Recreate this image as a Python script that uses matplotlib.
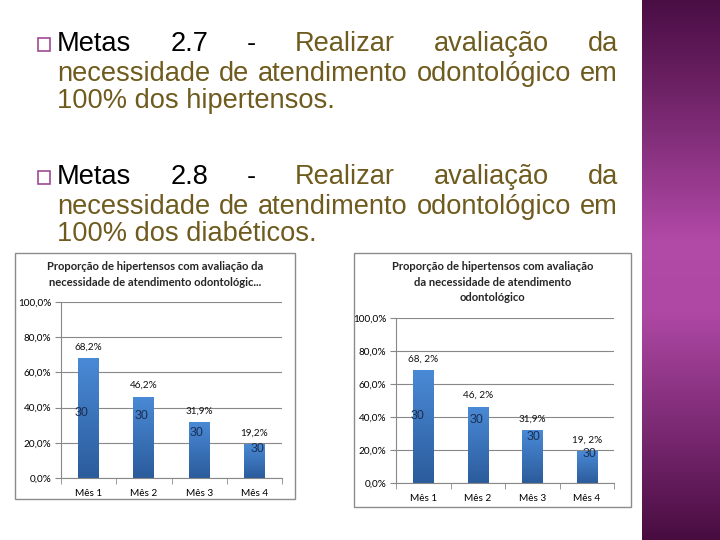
"""
Slide: Metas 2.7 / 2.8 with two bar charts of the proportion of hypertensive
patients with dental-care needs assessment.
"""
import numpy as np
import matplotlib.pyplot as plt
from matplotlib.colors import LinearSegmentedColormap
from matplotlib.patches import Rectangle

# data
months = ["Mês 1", "Mês 2", "Mês 3", "Mês 4"]
pct_values = [68.2, 46.2, 31.9, 19.2]
counts = [30, 30, 30, 30]
pct_labels_left = ["68,2%", "46,2%", "31,9%", "19,2%"]
pct_labels_right = ["68, 2%", "46, 2%", "31,9%", "19, 2%"]
y_ticks = [0, 20, 40, 60, 80, 100]
y_tick_labels = ["0,0%", "20,0%", "40,0%", "60,0%", "80,0%", "100,0%"]

title_left = "Proporção de hipertensos com avaliação da\nnecessidade de atendimento odontológic..."
title_right = "Proporção de hipertensos com avaliação\nda necessidade de atendimento\nodontológico"

# where the "30" labels sit (style only: x offset in bar units, y in %)
count_pos_left = [(-0.13, 37), (-0.04, 35), (-0.04, 25.6), (0.05, 16.5)]
count_pos_right = [(-0.11, 40.6), (-0.02, 38), (0.02, 27.9), (0.05, 17.6)]

W, H = 720, 540
TEXT_GOLD = "#6f5b1e"
GRID = "#888888"
CHART_FONT = "Lato"

fig = plt.figure(figsize=(W / 100, H / 100), dpi=100)
fig.patch.set_facecolor("white")


def fx(x):
    return x / W


def fy(y):
    return 1 - y / H


def px_axes(x0, y0, x1, y1):
    """axes from pixel box (top-left origin)"""
    return fig.add_axes([fx(x0), fy(y1), (x1 - x0) / W, (y1 - y0) / H])


# purple stripe on the right
stripe = fig.add_axes([fx(642), 0, (W - 642) / W, 1])
stripe_cmap = LinearSegmentedColormap.from_list(
    "stripe", [(0, "#4a0e45"), (0.15, "#6a2062"), (0.45, "#b24aa8"),
               (0.58, "#ae48a4"), (0.85, "#6e2266"), (1, "#480c40")])
stripe.imshow(np.linspace(0, 1, 256).reshape(-1, 1), aspect="auto", cmap=stripe_cmap,
              extent=[0, 1, 1, 0])
stripe.set_axis_off()

# slide text
renderer = fig.canvas.get_renderer()
TXT_SIZE = 19.6


def justify(words, colors, x0, x1, y_base):
    texts = [fig.text(0, fy(y_base), w, color=c, fontsize=TXT_SIZE,
                      family="Liberation Sans", va="baseline", ha="left")
             for w, c in zip(words, colors)]
    widths = [t.get_window_extent(renderer).width for t in texts]
    gap = (x1 - x0 - sum(widths)) / (len(words) - 1)
    x = x0
    for t, w in zip(texts, widths):
        t.set_x(fx(x))
        x += w + gap


def bullet(y_base):
    fig.patches.append(Rectangle((fx(38), fy(y_base)), 12 / W, 13 / H,
                                 transform=fig.transFigure, fill=False,
                                 edgecolor="#9e4a94", lw=1.2))


for meta, target, y0 in [("2.7", "hipertensos.", 51), ("2.8", "diabéticos.", 184)]:
    bullet(y0)
    justify(["Metas", meta, "-", "Realizar", "avaliação", "da"],
            ["black", "black", "black", TEXT_GOLD, TEXT_GOLD, TEXT_GOLD], 57, 618, y0)
    justify(["necessidade", "de", "atendimento", "odontológico", "em"],
            [TEXT_GOLD] * 5, 57, 618, y0 + 30)
    fig.text(fx(57), fy(y0 + 57), "100% dos " + target, color=TEXT_GOLD,
             fontsize=TXT_SIZE, family="Liberation Sans", va="baseline")

bar_cmap = LinearSegmentedColormap.from_list("bar", ["#2b5c9c", "#4a8ad6"])


def draw_chart(frame, box, title, title_y, pct_labels, count_pos, width):
    fx0, fy0, fx1, fy1 = frame
    fig.patches.append(Rectangle((fx(fx0), fy(fy1)), (fx1 - fx0) / W, (fy1 - fy0) / H,
                                 transform=fig.transFigure, fill=False,
                                 edgecolor="#8c8c8c", lw=1.0))
    fig.text(fx((fx0 + fx1) / 2), fy(title_y), title, ha="center", va="top",
             fontsize=8.1, fontweight="bold", family=CHART_FONT, color="#262626",
             linespacing=1.5)

    ax = px_axes(*box)
    x = np.arange(len(months))
    bars = ax.bar(x, pct_values, width=width, color="none", zorder=2)
    grad = np.linspace(0, 1, 256).reshape(-1, 1)
    for b in bars:
        im = ax.imshow(grad, extent=[b.get_x(), b.get_x() + b.get_width(), 0, b.get_height()],
                       origin="lower", aspect="auto", cmap=bar_cmap, zorder=2)
        im.set_clip_path(b)
    ax.set_xlim(-0.5, len(months) - 0.5)
    ax.set_ylim(0, 100)

    for xi, v, lab in zip(x, pct_values, pct_labels):
        ax.annotate(lab, (xi, v), xytext=(0, 8), textcoords="offset points",
                    ha="center", va="center", fontsize=7.2, family=CHART_FONT, color="#111111")
    for xi, c, (dx, yy) in zip(x, counts, count_pos):
        ax.text(xi + dx, yy, str(c), ha="center", va="center", fontsize=9,
                family="Liberation Sans", color="#1c2f52", zorder=3)

    ax.set_yticks(y_ticks)
    ax.set_yticklabels(y_tick_labels, fontsize=7.2, family=CHART_FONT)
    ax.yaxis.grid(True, color=GRID, lw=0.8)
    ax.set_axisbelow(True)
    ax.set_xticks(x)
    ax.set_xticklabels(months, fontsize=7.2, family=CHART_FONT)
    ax.set_xticks(np.arange(-0.5, len(months)), minor=True)
    ax.tick_params(axis="x", which="major", length=0, pad=8)
    ax.tick_params(axis="x", which="minor", length=4, color=GRID)
    ax.tick_params(axis="y", length=4, color=GRID, pad=3)
    for s in ["top", "right"]:
        ax.spines[s].set_visible(False)
    for s in ["left", "bottom"]:
        ax.spines[s].set_color(GRID)
        ax.spines[s].set_linewidth(0.8)
    ax.set_facecolor("none")


draw_chart((15, 253, 295, 499), (61, 302, 282, 478), title_left, 261,
           pct_labels_left, count_pos_left, 0.38)
draw_chart((354, 253, 631, 507), (396, 318, 614, 483), title_right, 261,
           pct_labels_right, count_pos_right, 0.37)

fig.savefig("out.png", dpi=100)
